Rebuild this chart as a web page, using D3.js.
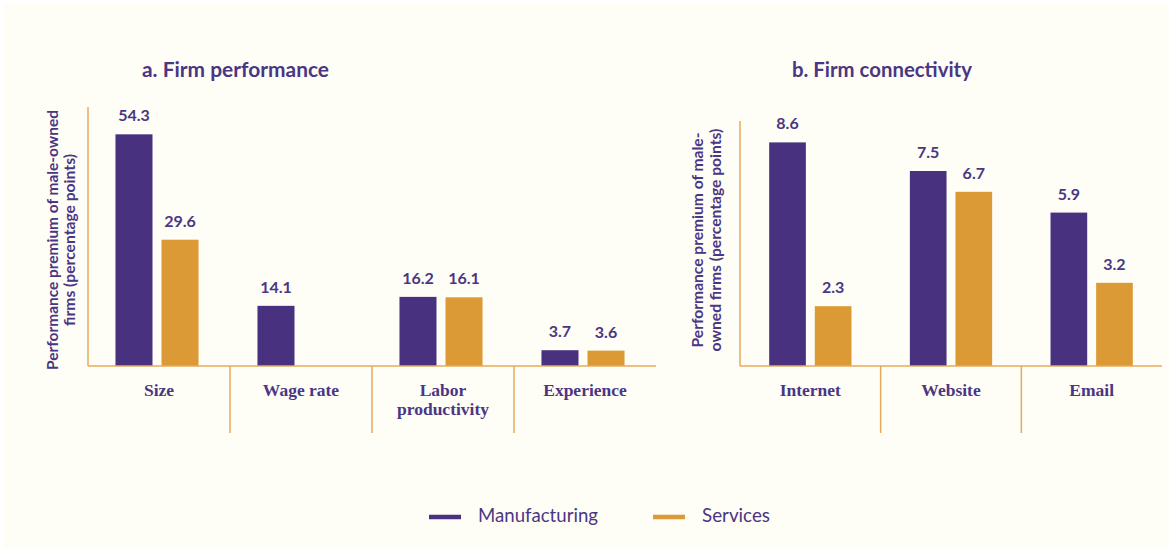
<!DOCTYPE html>
<html>
<head>
<meta charset="utf-8">
<script src="https://cdn.jsdelivr.net/npm/d3@7"></script>
<style>
  html, body { margin: 0; padding: 0; background: #ffffff; }
  svg { display: block; }
</style>
</head>
<body>
<svg id="chart" width="1169" height="552"></svg>
<script>
// ---------- data ----------
const seriesNames = ["Manufacturing", "Services"];

const perfCategories = [["Size"], ["Wage rate"], ["Labor", "productivity"], ["Experience"]];
const perfManufacturing = [54.3, 14.1, 16.2, 3.7];
const perfServices = [29.6, null, 16.1, 3.6];

const connCategories = [["Internet"], ["Website"], ["Email"]];
const connManufacturing = [8.6, 7.5, 5.9];
const connServices = [2.3, 6.7, 3.2];

const titleA = "a. Firm performance";
const titleB = "b. Firm connectivity";
const yLabelA = ["Performance premium of male-owned", "firms (percentage points)"];
const yLabelB = ["Performance premium of male-", "owned firms (percentage points)"];

// ---------- style ----------
const PURPLE = "#48327f";
const ORANGE = "#dc9a36";
const AXIS = "#e6aa5c";
const TEXT = "#4a3683";
const BG = "#fefdf6";
const SANS = "Lato, 'Open Sans', sans-serif";
const SERIF = "'Liberation Serif', 'DejaVu Serif', serif";

const svg = d3.select("#chart");
svg.append("rect").attr("x", 4).attr("y", 3).attr("width", 1165).attr("height", 546).attr("fill", BG);

function fit(sel, target) {
  const w = sel.node().getComputedTextLength();
  const fs = parseFloat(sel.attr("font-size"));
  if (w > 0) sel.attr("font-size", (fs * target / w).toFixed(2));
}

function panel(opts) {
  const g = svg.append("g");
  const cats = opts.categories.map((c, i) => i);
  const x = d3.scaleBand().domain(cats).range([opts.x0, opts.x1]).paddingInner(0).paddingOuter(0);
  const xs = d3.scaleBand().domain([0, 1]).range([0, x.bandwidth()]).paddingInner(0.196).paddingOuter(0.64);
  const y = d3.scaleLinear().domain([0, opts.yMax]).range([opts.base, opts.top]);
  const bx = d => x(d.i) + xs(d.s) + opts.shift;

  const data = [];
  cats.forEach(i => {
    [opts.man[i], opts.ser[i]].forEach((v, s) => {
      if (v !== null && v !== undefined) data.push({ i, s, v });
    });
  });

  // bars
  g.selectAll("rect.bar").data(data).join("rect")
    .attr("class", "bar")
    .attr("x", bx)
    .attr("width", xs.bandwidth())
    .attr("y", d => y(d.v))
    .attr("height", d => y(0) - y(d.v))
    .attr("fill", d => d.s === 0 ? PURPLE : ORANGE);

  // value labels
  g.selectAll("text.val").data(data).join("text")
    .attr("class", "val")
    .attr("x", d => bx(d) + xs.bandwidth() / 2)
    .attr("y", d => y(d.v) - 13)
    .attr("text-anchor", "middle")
    .attr("font-family", SANS).attr("font-weight", 700)
    .attr("font-size", 16).attr("fill", TEXT)
    .text(d => d.v.toFixed(1));

  // y axis line
  g.append("line").attr("x1", opts.x0).attr("x2", opts.x0)
    .attr("y1", opts.axisTop).attr("y2", opts.base)
    .attr("stroke", AXIS).attr("stroke-width", 1.5);
  // baseline
  g.append("line").attr("x1", opts.x0).attr("x2", opts.x1)
    .attr("y1", opts.base).attr("y2", opts.base)
    .attr("stroke", AXIS).attr("stroke-width", 1.5);
  // separators
  cats.slice(1).forEach(i => {
    g.append("line").attr("x1", x(i)).attr("x2", x(i))
      .attr("y1", opts.base).attr("y2", opts.base + 67)
      .attr("stroke", AXIS).attr("stroke-width", 1.5);
  });

  // category labels
  cats.forEach(i => {
    const t = g.append("text")
      .attr("x", x(i) + x.bandwidth() / 2)
      .attr("y", opts.base + 30)
      .attr("text-anchor", "middle")
      .attr("font-family", SERIF).attr("font-weight", 700)
      .attr("font-size", 17.5).attr("fill", TEXT);
    opts.categories[i].forEach((line, k) => {
      t.append("tspan").attr("x", x(i) + x.bandwidth() / 2).attr("dy", k === 0 ? 0 : 18.5).text(line);
    });
  });

  // title
  const tt = g.append("text").attr("x", opts.titleX).attr("y", 77)
    .attr("font-family", SANS).attr("font-weight", 700)
    .attr("font-size", 18).attr("fill", TEXT).text(opts.title);
  fit(tt, opts.titleW);

  // y label
  opts.yLabel.forEach((line, k) => {
    const t = g.append("text")
      .attr("transform", `translate(${opts.yLabX[k]},${opts.yLabY}) rotate(-90)`)
      .attr("text-anchor", "middle").attr("dy", "0.35em")
      .attr("font-family", SANS).attr("font-weight", 700)
      .attr("font-size", 13).attr("fill", TEXT).text(line);
    fit(t, opts.yLabW[k]);
  });
}

panel({
  categories: perfCategories, man: perfManufacturing, ser: perfServices,
  x0: 88, x1: 656, base: 366, top: 110, axisTop: 107, yMax: 60, shift: -2,
  title: titleA, titleX: 142, titleW: 187,
  yLabel: yLabelA, yLabX: [53, 70], yLabY: 240, yLabW: [260, 172]
});

panel({
  categories: connCategories, man: connManufacturing, ser: connServices,
  x0: 740, x1: 1162, base: 366, top: 132, axisTop: 121, yMax: 9, shift: 0,
  title: titleB, titleX: 792, titleW: 180,
  yLabel: yLabelB, yLabX: [698, 716], yLabY: 240, yLabW: [215, 223]
});

// legend
const legend = svg.append("g");
const legendItems = [
  { name: seriesNames[0], color: PURPLE, x: 429, w: 120 },
  { name: seriesNames[1], color: ORANGE, x: 653, w: 68 }
];
legendItems.forEach(it => {
  legend.append("line").attr("x1", it.x).attr("x2", it.x + 32)
    .attr("y1", 517).attr("y2", 517)
    .attr("stroke", it.color).attr("stroke-width", 4.5);
  const t = legend.append("text").attr("x", it.x + 49).attr("y", 522)
    .attr("font-family", SANS).attr("font-weight", 400)
    .attr("font-size", 16).attr("fill", TEXT).text(it.name);
  fit(t, it.w);
});
</script>
</body>
</html>
